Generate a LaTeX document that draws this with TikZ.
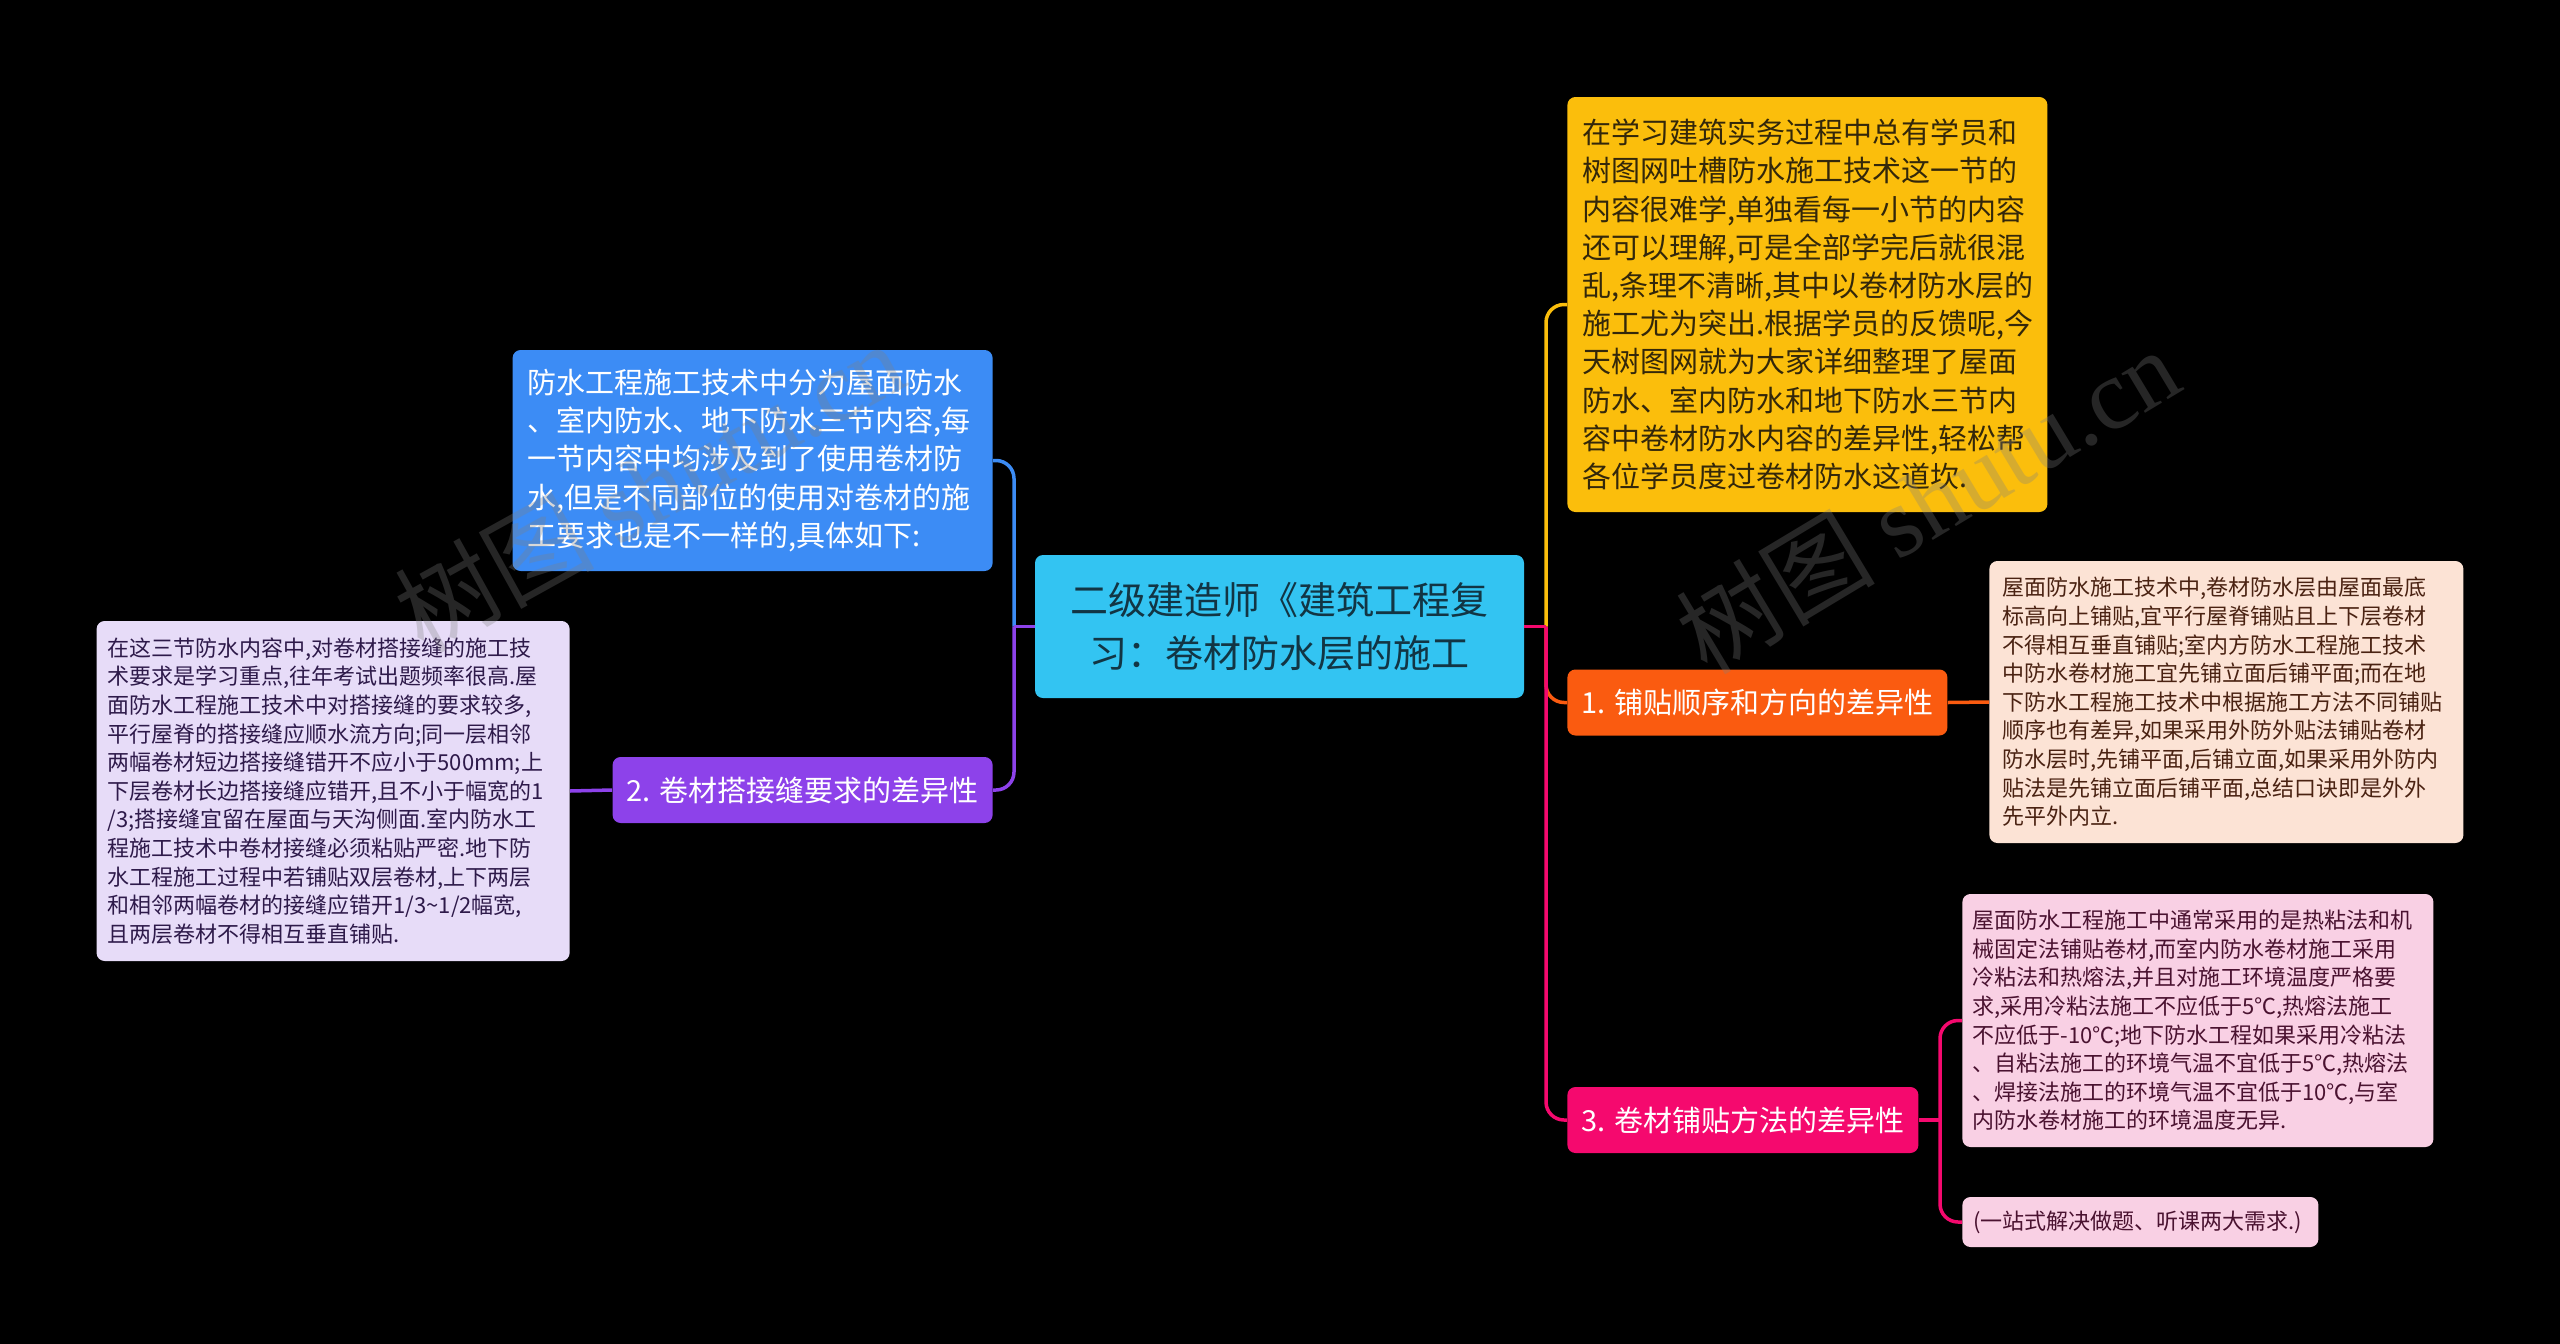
\documentclass[tikz,border=0pt]{standalone}
\usepackage{fontspec}
\setmainfont{Noto Sans CJK SC}
\newfontfamily\wmlatin{Liberation Serif}
\usetikzlibrary{positioning}

\definecolor{rootc}{HTML}{33C4F2}
\definecolor{roottxt}{HTML}{123544}
\definecolor{yelc}{HTML}{FBBE0C}
\definecolor{yeltxt}{HTML}{33270A}
\definecolor{bluec}{HTML}{3C8CF5}
\definecolor{purc}{HTML}{8D42EA}
\definecolor{orac}{HTML}{FA5B10}
\definecolor{pinkc}{HTML}{F5096E}
\definecolor{lilac}{HTML}{E7DCF8}
\definecolor{lilactxt}{HTML}{2E1A4A}
\definecolor{peach}{HTML}{FCE3D5}
\definecolor{peachtxt}{HTML}{4A2212}
\definecolor{rose}{HTML}{F9D0E4}
\definecolor{rosetxt}{HTML}{4A1230}

\begin{document}
\begin{tikzpicture}[
  x=0.5pt, y=-0.5pt,
  box/.style={rounded corners=4pt, inner ysep=0pt, align=left},
  root/.style={box, fill=rootc, text=roottxt, align=center, inner xsep=0pt,
               font=\fontsize{19}{26.5}\selectfont,
               minimum width=244.5pt, minimum height=71.5pt},
  lab/.style={box, text=white, align=center, inner xsep=0pt,
              font=\fontsize{14.5}{18}\selectfont, minimum height=33pt},
  big/.style={box, font=\fontsize{14.5}{19.1}\selectfont, inner xsep=7.5pt, text width=225pt},
  note/.style={box, font=\fontsize{11}{14.3}\selectfont},
  link/.style={line width=1.75pt, rounded corners=9pt},
  wmark/.style={text=gray, opacity=0.3, font=\fontsize{50}{50}\selectfont},
]
\fill[black] (0,0) rectangle (2560,1344);
\useasboundingbox (0,0) rectangle (2560,1344);

% ---------------- root -----------------
\node[root] (root) at (1279.5,626.5) {二级建造师《建筑工程复\\习：卷材防水层的施工};
\coordinate (lj) at (1014,626.5);
\coordinate (rj) at (1546,626.5);

% ---------------- left side -----------------
\node[big, fill=bluec, text=white, minimum height=110.5pt, anchor=east] (intro) at (993,460.5)
  {防水工程施工技术中分为屋面防水\\、室内防水、地下防水三节内容,每\\一节内容中均涉及到了使用卷材防\\水,但是不同部位的使用对卷材的施\\工要求也是不一样的,具体如下:};
\node[lab, fill=purc, minimum width=190pt, anchor=east] (seam) at (993,790) {2. 卷材搭接缝要求的差异性};
\node[note, fill=lilac, text=lilactxt, inner xsep=5.5pt, text width=225.5pt,
      minimum height=170pt, anchor=east] (seamtxt) at (570,791)
  {在这三节防水内容中,对卷材搭接缝的施工技\\术要求是学习重点,往年考试出题频率很高.屋\\面防水工程施工技术中对搭接缝的要求较多,\\平行屋脊的搭接缝应顺水流方向;同一层相邻\\两幅卷材短边搭接缝错开不应小于500mm;上\\下层卷材长边搭接缝应错开,且不小于幅宽的1\\/3;搭接缝宜留在屋面与天沟侧面.室内防水工\\程施工技术中卷材接缝必须粘贴严密.地下防\\水工程施工过程中若铺贴双层卷材,上下两层\\和相邻两幅卷材的接缝应错开1/3\textasciitilde 1/2幅宽,\\且两层卷材不得相互垂直铺贴.};

% ---------------- right side -----------------
\node[big, fill=yelc, text=yeltxt, minimum height=207.5pt, anchor=west] (preface) at (1567,304.5)
  {在学习建筑实务过程中总有学员和\\树图网吐槽防水施工技术这一节的\\内容很难学,单独看每一小节的内容\\还可以理解,可是全部学完后就很混\\乱,条理不清晰,其中以卷材防水层的\\施工尤为突出.根据学员的反馈呢,今\\天树图网就为大家详细整理了屋面\\防水、室内防水和地下防水三节内\\容中卷材防水内容的差异性,轻松帮\\各位学员度过卷材防水这道坎.};
\node[lab, fill=orac, minimum width=190pt, anchor=west] (order) at (1567,702.5) {1. 铺贴顺序和方向的差异性};
\node[note, fill=peach, text=peachtxt, inner xsep=6.5pt, text width=224pt,
      minimum height=141pt, anchor=west] (ordertxt) at (1989,702)
  {屋面防水施工技术中,卷材防水层由屋面最底\\标高向上铺贴,宜平行屋脊铺贴且上下层卷材\\不得相互垂直铺贴;室内方防水工程施工技术\\中防水卷材施工宜先铺立面后铺平面;而在地\\下防水工程施工技术中根据施工方法不同铺贴\\顺序也有差异,如果采用外防外贴法铺贴卷材\\防水层时,先铺平面,后铺立面,如果采用外防内\\贴法是先铺立面后铺平面,总结口诀即是外外\\先平外内立.};
\node[lab, fill=pinkc, minimum width=175.5pt, anchor=west] (method) at (1567,1120) {3. 卷材铺贴方法的差异性};
\node[note, fill=rose, text=rosetxt, inner xsep=5pt, text width=225.5pt,
      minimum height=126.5pt, anchor=west] (methodtxt) at (1962,1020.5)
  {屋面防水工程施工中通常采用的是热粘法和机\\械固定法铺贴卷材,而室内防水卷材施工采用\\冷粘法和热熔法,并且对施工环境温度严格要\\求,采用冷粘法施工不应低于5℃,热熔法施工\\不应低于-10℃;地下防水工程如果采用冷粘法\\、自粘法施工的环境气温不宜低于5℃,热熔法\\、焊接法施工的环境气温不宜低于10℃,与室\\内防水卷材施工的环境温度无异.};
\node[note, fill=rose, text=rosetxt, inner xsep=5.5pt, text width=167pt,
      minimum height=25pt, anchor=west] (tip) at (1962,1222) {(一站式解决做题、听课两大需求.)};
\coordinate (pj) at (1940,1120);

% ---------------- links -----------------
\draw[link, bluec] (lj) |- (intro.east);
\draw[link, purc] (lj) |- (seam.east);
\draw[link, purc] (root.west) -- (lj);
\draw[link, purc] (seam.west) -- (seamtxt.east);
\draw[link, yelc] (rj) |- (preface.west);
\draw[link, orac] (rj) |- (order.west);
\draw[link, pinkc] (rj) |- (method.west);
\draw[link, pinkc] (root.east) -- (rj);
\draw[link, orac] (order.east) -- (ordertxt.west);
\draw[link, pinkc] (method.east) -- (pj);
\draw[link, pinkc] (pj) |- (methodtxt.west);
\draw[link, pinkc] (pj) |- (tip.west);

% ---------------- watermark -----------------
\node[wmark, rotate=29] (wm1) at (649,486) {树图 {\wmlatin shutu.cn}};
\node[wmark, rotate=31] (wm2) at (1927,500) {树图 {\wmlatin shutu.cn}};
\end{tikzpicture}
\end{document}
